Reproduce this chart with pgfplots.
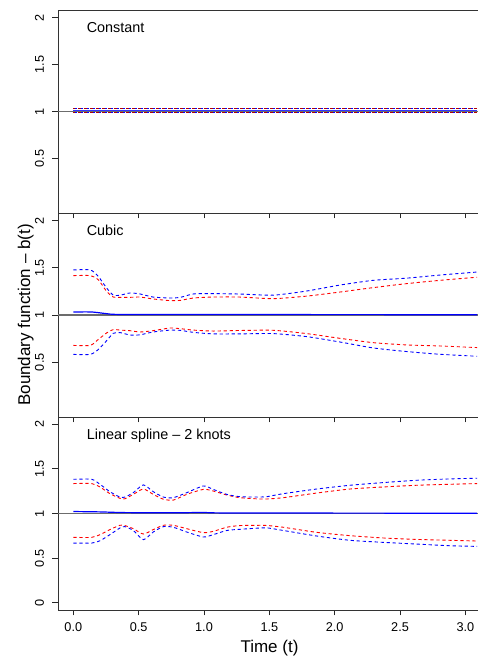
\documentclass[border=0pt]{standalone}
\usepackage{pgfplots}
\pgfplotsset{compat=1.18}
\usepackage{pgfplotstable}
\usepackage{fontspec}
\setmainfont{Liberation Sans}

\pgfplotstableread{
t     bu    ru    bl    rl
0.00  1.477 1.417 0.583 0.678
0.13  1.477 1.417 0.583 0.678
0.19  1.41  1.375 0.633 0.74
0.255 1.286 1.25  0.728 0.81
0.306 1.21  1.19  0.806 0.845
0.36  1.21  1.187 0.813 0.84
0.434 1.233 1.187 0.788 0.834
0.51  1.223 1.19  0.79  0.82
0.61  1.19  1.17  0.82  0.834
0.74  1.18  1.152 0.84  0.862
0.82  1.187 1.155 0.837 0.855
0.92  1.223 1.18  0.816 0.84
1.07  1.226 1.19  0.80  0.83
1.275 1.222 1.19  0.80  0.836
1.53  1.21  1.173 0.803 0.838
1.786 1.254 1.20  0.771 0.803
2.04  1.317 1.243 0.714 0.753
2.295 1.367 1.29  0.651 0.707
2.55  1.39  1.332 0.613 0.683
2.806 1.423 1.367 0.584 0.672
3.09  1.455 1.40  0.563 0.655
}\cubic

\pgfplotstableread{
t     bu    ru    bl    rl
0.00  1.383 1.335 0.669 0.733
0.14  1.383 1.335 0.669 0.733
0.204 1.327 1.297 0.695 0.763
0.28  1.244 1.222 0.763 0.82
0.357 1.184 1.17  0.838 0.868
0.395 1.184 1.165 0.853 0.865
0.459 1.233 1.214 0.81  0.83
0.536 1.32  1.274 0.707 0.77
0.612 1.244 1.214 0.793 0.82
0.689 1.184 1.16  0.853 0.868
0.765 1.177 1.15  0.846 0.868
0.868 1.233 1.214 0.793 0.83
0.995 1.308 1.27  0.737 0.786
1.07  1.27  1.252 0.763 0.80
1.174 1.214 1.207 0.81  0.846
1.275 1.188 1.177 0.823 0.865
1.43  1.184 1.162 0.838 0.868
1.48  1.188 1.162 0.84  0.866
1.607 1.222 1.177 0.81  0.846
1.862 1.274 1.229 0.748 0.789
2.117 1.316 1.274 0.70  0.752
2.372 1.346 1.297 0.677 0.726
2.627 1.372 1.316 0.658 0.71
2.882 1.387 1.327 0.639 0.70
3.09  1.395 1.335 0.632 0.692
}\lspline

\pgfplotstableread{
t     bu    ru    bl    rl
0.00  1.035 1.035 0.988 0.988
3.09  1.035 1.035 0.988 0.988
}\const

\pgfplotsset{
  panel/.style={
    scale only axis, width=421pt,
    xmin=-0.1171, xmax=3.104, ymin=-0.08, ymax=2.08,
    axis line style={black!80, line width=0.8pt},
    tick align=outside, major tick length=5.5pt,
    tick style={black!85, line width=0.8pt},
    xtick={0,0.5,1,1.5,2,2.5,3},
    xtick pos=left, ytick pos=left,
    ytick={0.5,1,1.5,2},
    yticklabel shift=5pt, xticklabel shift=4pt,
    yticklabel style={rotate=90, anchor=south, font=\fontsize{12.7}{14}\selectfont},
    xticklabel style={font=\fontsize{12.7}{14}\selectfont,
      /pgf/number format/fixed, /pgf/number format/fixed zerofill,
      /pgf/number format/precision=1},
    /pgf/number format/assume math mode=true,
    clip=true,
  },
  bnd/.style={line width=0.9pt, dash pattern=on 3.2pt off 2.8pt},
}

\begin{document}
\begin{tikzpicture}
% ---------- Panel 1: Constant
\begin{axis}[panel, at={(58pt,443pt)}, anchor=south west, height=203pt,
  xticklabels={}]
  \addplot[gray!85!black, line width=1.2pt] coordinates {(-0.2,1) (3.2,1)};
  \addplot[blue!80, line width=1.4pt] coordinates {(0,1.01) (3.09,1.01)};
  \addplot[blue, bnd] table[x=t,y=bu] {\const};
  \addplot[blue, bnd] table[x=t,y=bl] {\const};
  \addplot[red!70!black, bnd, dash phase=1.5pt] table[x=t,y=ru] {\const};
  \addplot[red!70!black, bnd, dash phase=1.5pt] table[x=t,y=rl] {\const};
\end{axis}
% ---------- Panel 2: Cubic
\begin{axis}[panel, at={(58pt,239pt)}, anchor=south west, height=204pt,
  xticklabels={}]
  \addplot[gray!85!black, line width=1.2pt] coordinates {(-0.2,1) (3.2,1)};
  \addplot[blue, line width=1.2pt, smooth, tension=0.4] coordinates {(0,1.032) (0.14,1.032) (0.25,1.015) (0.35,1.006) (1.0,1.005) (3.09,1.003)};
  \addplot[red, bnd, smooth, tension=0.4] table[x=t,y=ru] {\cubic};
  \addplot[red, bnd, smooth, tension=0.4] table[x=t,y=rl] {\cubic};
  \addplot[blue, bnd, smooth, tension=0.4] table[x=t,y=bu] {\cubic};
  \addplot[blue, bnd, smooth, tension=0.4] table[x=t,y=bl] {\cubic};
\end{axis}
% ---------- Panel 3: Linear spline
\begin{axis}[panel, at={(58pt,46pt)}, anchor=south west, height=193pt,
  ytick={0,0.5,1,1.5,2}]
  \addplot[gray!85!black, line width=1.2pt] coordinates {(-0.2,1) (3.2,1)};
  \addplot[blue, line width=1.2pt, smooth, tension=0.4] coordinates {(0,1.022) (0.2,1.018) (0.4,1.01) (0.8,1.008) (1.0,1.012) (1.2,1.006) (3.09,1.003)};
  \addplot[red, bnd, smooth, tension=0.4] table[x=t,y=ru] {\lspline};
  \addplot[red, bnd, smooth, tension=0.4] table[x=t,y=rl] {\lspline};
  \addplot[blue, bnd, smooth, tension=0.4] table[x=t,y=bu] {\lspline};
  \addplot[blue, bnd, smooth, tension=0.4] table[x=t,y=bl] {\lspline};
\end{axis}
% ---------- texts
\node[anchor=base west, font=\fontsize{14.4}{17}\selectfont] at (83.3pt,623.3pt) {Constant};
\node[anchor=base west, font=\fontsize{14.4}{17}\selectfont] at (83.3pt,420pt) {Cubic};
\node[anchor=base west, font=\fontsize{14.4}{17}\selectfont] at (83.3pt,216pt) {Linear spline -- 2 knots};
\node[anchor=base, rotate=90, font=\fontsize{17}{20}\selectfont, inner sep=0pt] at (30pt,341pt) {Boundary function -- b(t)};
\node[anchor=base, font=\fontsize{17}{20}\selectfont, inner sep=0pt] at (269.5pt,3.7pt) {Time (t)};
\pgfresetboundingbox
\useasboundingbox (0,0) rectangle (477pt,656pt);
\end{tikzpicture}
\end{document}
